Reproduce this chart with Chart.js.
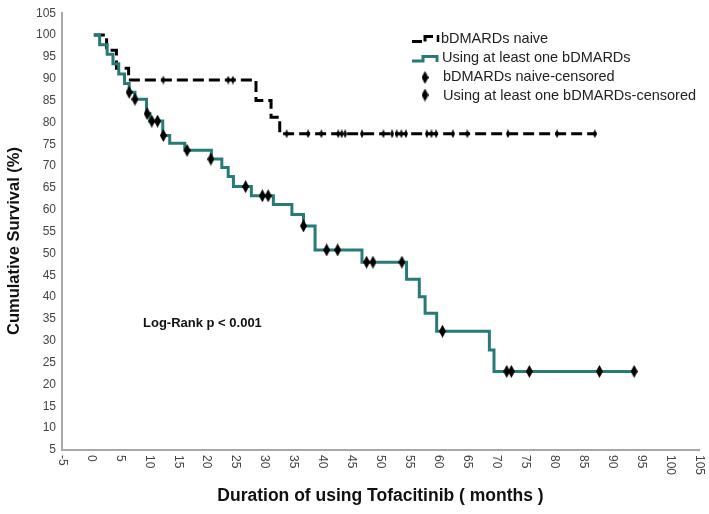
<!DOCTYPE html>
<html>
<head>
<meta charset="utf-8">
<script src="https://cdn.jsdelivr.net/npm/chart.js@4.4.0/dist/chart.umd.min.js"></script>
<style>
body { margin: 0; background: #fff; }
</style>
</head>
<body>
<canvas id="myChart" width="709" height="514"></canvas>
<script>
// survival steps: time of each drop (months) and level after it (%)
const naiveTimes = [0.5, 2.7, 4.4, 6.5, 28.5, 31.1, 32.6, 87.3];
const naiveSurv = [100, 96.5, 92.4, 89.7, 85.0, 81.2, 77.4, 77.4];

const usingTimes = [0.5, 1.5, 2.8, 3.8, 4.8, 5.8, 6.6, 7.6, 9.6, 10.2, 12.4, 13.6, 16.2, 20.8, 22.6, 23.7, 24.6, 27.7, 31.5, 34.7, 36.7, 38.7, 46.8, 54.5, 56.7, 57.7, 59.7, 68.8, 69.6, 93.8];
const usingSurv = [100, 97.8, 95.6, 93.4, 91.1, 88.9, 86.9, 85.3, 82.0, 80.3, 77.0, 75.2, 73.6, 71.6, 69.7, 67.6, 65.3, 63.2, 61.2, 58.9, 56.3, 50.8, 48.0, 44.1, 40.1, 36.3, 32.2, 27.9, 23.0, 23.0];

// censored cases
const naiveCensTimes = [12.5, 23.7, 24.5, 33.8, 37.5, 39.8, 42.7, 43.3, 43.9, 46.8, 50.5, 52.0, 52.8, 53.6, 54.4, 58.0, 58.8, 59.6, 62.5, 65.0, 72.0, 80.5, 87.0];
const naiveCensSurv = [89.7, 89.7, 89.7, 77.4, 77.4, 77.4, 77.4, 77.4, 77.4, 77.4, 77.4, 77.4, 77.4, 77.4, 77.4, 77.4, 77.4, 77.4, 77.4, 77.4, 77.4, 77.4, 77.4];

const usingCensTimes = [6.6, 7.6, 9.7, 10.5, 11.5, 12.5, 16.6, 20.7, 26.7, 29.6, 30.6, 36.7, 40.7, 42.6, 47.6, 48.7, 53.7, 60.7, 71.8, 72.6, 75.7, 87.8, 93.8];
const usingCensSurv = [86.9, 85.3, 82.0, 80.3, 80.3, 77.0, 73.6, 71.6, 65.3, 63.2, 63.2, 56.3, 50.8, 50.8, 48.0, 48.0, 48.0, 32.2, 23.0, 23.0, 23.0, 23.0, 23.0];

const xTicks = [-5, 0, 5, 10, 15, 20, 25, 30, 35, 40, 45, 50, 55, 60, 65, 70, 75, 80, 85, 90, 95, 100, 105];

const legendLabels = ["bDMARDs naive", "Using at least one bDMARDs", "bDMARDs naive-censored", "Using at least one bDMARDs-censored"];

const tealColor = "#277a76";

function toPoints(xs, ys) {
  return xs.map((x, i) => ({ x: x, y: ys[i] }));
}

function makeDiamond(w, h) {
  const c = document.createElement("canvas");
  c.width = w;
  c.height = h;
  const g = c.getContext("2d");
  g.fillStyle = "#000";
  g.beginPath();
  g.moveTo(w / 2, 0);
  g.lineTo(w, h / 2);
  g.lineTo(w / 2, h);
  g.lineTo(0, h / 2);
  g.closePath();
  g.fill();
  return c;
}

const smallMark = makeDiamond(4, 9);
const bigMark = makeDiamond(7, 13);

const textPlugin = {
  id: "texts",
  afterDraw(chart) {
    const ctx = chart.ctx;
    const area = chart.chartArea;
    const xs = chart.scales.x;

    ctx.save();
    ctx.fillStyle = "#444";
    ctx.font = "12px 'Liberation Sans', Arial, sans-serif";
    ctx.textAlign = "left";
    ctx.textBaseline = "middle";
    xTicks.forEach((v) => {
      ctx.save();
      ctx.translate(xs.getPixelForValue(v), area.bottom + 5);
      ctx.rotate(Math.PI / 2);
      ctx.fillText(String(v), 0, 0);
      ctx.restore();
    });
    ctx.restore();

    ctx.save();
    ctx.fillStyle = "#111";
    ctx.textAlign = "center";
    ctx.textBaseline = "middle";
    ctx.font = "bold 17.5px 'Liberation Sans', Arial, sans-serif";
    ctx.fillText("Duration of using Tofacitinib ( months )", (area.left + area.right) / 2, 496);
    ctx.translate(14, 241);
    ctx.rotate(-Math.PI / 2);
    ctx.font = "bold 16.5px 'Liberation Sans', Arial, sans-serif";
    ctx.fillText("Cumulative Survival (%)", 0, 0);
    ctx.restore();

    ctx.save();
    ctx.fillStyle = "#111";
    ctx.font = "bold 13px 'Liberation Sans', Arial, sans-serif";
    ctx.textBaseline = "middle";
    ctx.fillText("Log-Rank p < 0.001", 143, 323);
    ctx.restore();

    // legend
    ctx.save();
    ctx.lineWidth = 3;
    ctx.strokeStyle = "#000";
    ctx.beginPath();
    ctx.moveTo(412, 41.5);
    ctx.lineTo(422, 41.5);
    ctx.moveTo(425, 41.5);
    ctx.lineTo(425, 36.5);
    ctx.lineTo(433, 36.5);
    ctx.stroke();
    ctx.lineWidth = 2.5;
    ctx.beginPath();
    ctx.moveTo(438, 35);
    ctx.lineTo(438, 42);
    ctx.stroke();

    ctx.strokeStyle = tealColor;
    ctx.lineWidth = 3;
    ctx.beginPath();
    ctx.moveTo(412, 61);
    ctx.lineTo(423, 61);
    ctx.lineTo(423, 56.5);
    ctx.lineTo(437, 56.5);
    ctx.lineTo(437, 62);
    ctx.stroke();

    ctx.drawImage(bigMark, 421.5, 71);
    ctx.drawImage(bigMark, 421.5, 88.5);

    ctx.fillStyle = "#222";
    ctx.font = "14.5px 'Liberation Sans', Arial, sans-serif";
    ctx.textBaseline = "middle";
    ctx.fillText(legendLabels[0], 441, 39);
    ctx.fillText(legendLabels[1], 442, 58);
    ctx.fillText(legendLabels[2], 443, 77);
    ctx.fillText(legendLabels[3], 443, 95.5);
    ctx.restore();
  }
};

function renderGrafica() {
  const data = {
    datasets: [
      {
        label: legendLabels[3],
        data: toPoints(usingCensTimes, usingCensSurv),
        showLine: false,
        pointStyle: bigMark,
        order: 0
      },
      {
        label: legendLabels[2],
        data: toPoints(naiveCensTimes, naiveCensSurv),
        showLine: false,
        pointStyle: smallMark,
        order: 0
      },
      {
        label: legendLabels[1],
        data: toPoints(usingTimes, usingSurv),
        showLine: true,
        stepped: true,
        borderColor: tealColor,
        borderWidth: 3,
        pointRadius: 0,
        order: 1
      },
      {
        label: legendLabels[0],
        data: toPoints(naiveTimes, naiveSurv),
        showLine: true,
        stepped: true,
        borderColor: "#000",
        borderWidth: 3,
        borderDash: [11, 5],
        pointRadius: 0,
        order: 2
      }
    ]
  };

  const config = {
    type: "scatter",
    data,
    options: {
      responsive: false,
      animation: false,
      layout: { padding: { top: 8, right: 10, left: 0, bottom: 0 } },
      plugins: {
        legend: { display: false },
        tooltip: { enabled: false }
      },
      scales: {
        x: {
          type: "linear",
          min: -5,
          max: 105,
          ticks: { display: false, stepSize: 5 },
          grid: { display: false, drawTicks: false },
          border: { color: "#a8a8a8", width: 2 },
          afterFit: (s) => { s.height = 64; }
        },
        y: {
          min: 5,
          max: 105,
          ticks: {
            stepSize: 5,
            padding: 6,
            color: "#444",
            font: { family: "'Liberation Sans', Arial, sans-serif", size: 12 }
          },
          grid: { display: false, drawTicks: false },
          border: { color: "#a8a8a8", width: 2 },
          afterFit: (s) => { s.width = 62; }
        }
      }
    },
    plugins: [textPlugin]
  };

  const myChart = document.getElementById("myChart");
  new Chart(myChart, config);
}

renderGrafica();
</script>
</body>
</html>
